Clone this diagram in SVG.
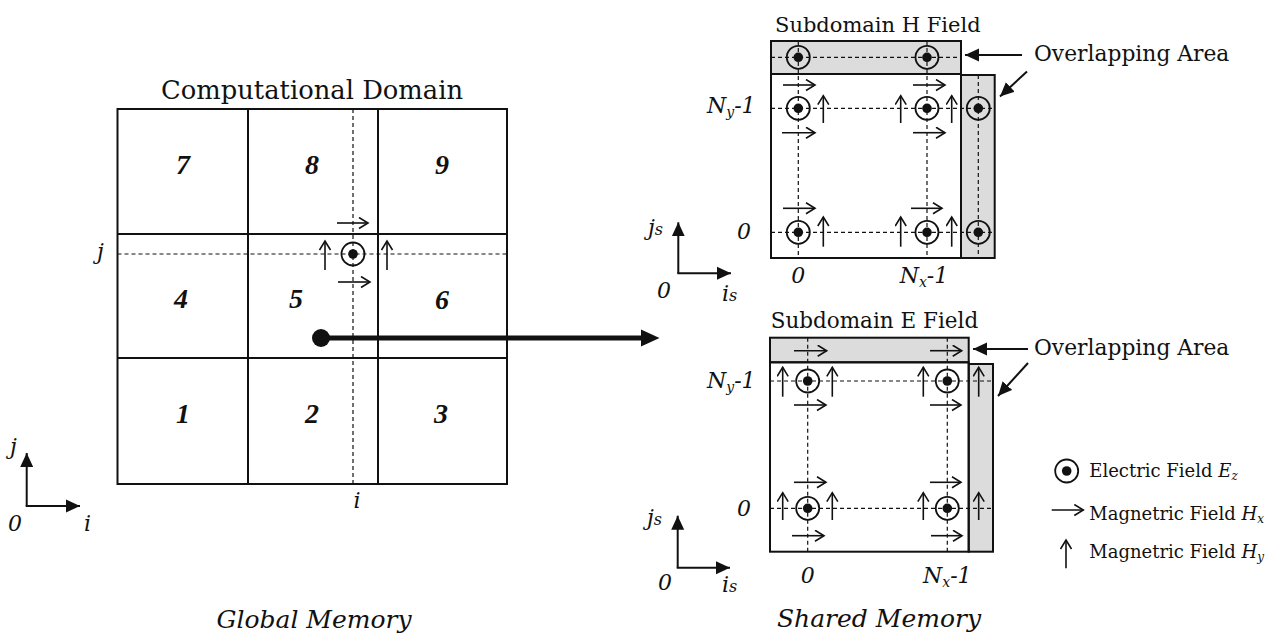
<svg xmlns="http://www.w3.org/2000/svg" width="1288" height="637" viewBox="0 0 1288 637">
<defs>
<style>
.frame{fill:none;stroke:#111;stroke-width:2}
.band{fill:#dcdcdc;stroke:#111;stroke-width:2}
.dash{fill:none;stroke:#111;stroke-width:1.2;stroke-dasharray:4 3}
.hx,.hy{fill:none;stroke:#111;stroke-width:1.6;marker-end:url(#open)}
.ax{fill:none;stroke:#111;stroke-width:2;marker-end:url(#solid)}
.ring{fill:none;stroke:#111;stroke-width:1.8}
.dot{fill:#111}
.t{font-family:"DejaVu Serif","Liberation Serif",serif;fill:#111}
.it{font-family:"DejaVu Serif","Liberation Serif",serif;font-style:italic;fill:#111}
.num{font-family:"Liberation Serif","DejaVu Serif",serif;font-style:italic;font-weight:bold;font-size:28px;fill:#111;text-anchor:middle}
</style>
<marker id="open" markerUnits="userSpaceOnUse" markerWidth="14" markerHeight="14" refX="10" refY="6" orient="auto">
<path d="M1,0.5 L10,6 L1,11.5" fill="none" stroke="#111" stroke-width="1.6"/>
</marker>
<marker id="solid" markerUnits="userSpaceOnUse" markerWidth="16" markerHeight="14" refX="14" refY="7" orient="auto">
<path d="M0,0.5 L14,7 L0,13.5 Z" fill="#111"/>
</marker>
<g id="ez"><circle class="ring" r="11.5"/><circle class="dot" r="4.8"/></g>
</defs>
<rect width="1288" height="637" fill="#fff"/>

<!-- Global memory: computational domain -->
<g id="domain">
<text class="t" x="312" y="99" font-size="25.8" text-anchor="middle">Computational Domain</text>
<rect class="frame" x="117.5" y="109" width="389.5" height="375"/>
<line class="frame" x1="248" y1="109" x2="248" y2="484"/>
<line class="frame" x1="378" y1="109" x2="378" y2="484"/>
<line class="frame" x1="117.5" y1="234" x2="507" y2="234"/>
<line class="frame" x1="117.5" y1="358" x2="507" y2="358"/>
<line class="dash" x1="353" y1="109" x2="353" y2="484"/>
<line class="dash" x1="117.5" y1="254" x2="507" y2="254"/>
<text class="it" x="97" y="259" font-size="22">j</text>
<text class="it" x="357" y="508" font-size="22" text-anchor="middle">i</text>
</g>
<g id="cell7"><text class="num" x="183" y="174">7</text></g>
<g id="cell8"><text class="num" x="312" y="174">8</text></g>
<g id="cell9"><text class="num" x="442" y="174">9</text></g>
<g id="cell4"><text class="num" x="181" y="308">4</text></g>
<g id="cell5"><text class="num" x="296" y="308">5</text></g>
<g id="cell6"><text class="num" x="442" y="309">6</text></g>
<g id="cell1"><text class="num" x="183" y="423">1</text></g>
<g id="cell2"><text class="num" x="312" y="423">2</text></g>
<g id="cell3"><text class="num" x="441" y="423">3</text></g>
<g id="domain-fields">
<use href="#ez" x="353" y="254"/>
<line class="hx" x1="337" y1="223" x2="368" y2="223"/>
<line class="hx" x1="338" y1="282" x2="370" y2="282"/>
<line class="hy" x1="325" y1="270" x2="325" y2="241"/>
<line class="hy" x1="387" y1="270" x2="387" y2="241"/>
</g>
<g id="axis-global">
<line class="ax" x1="26.7" y1="506" x2="26.7" y2="453"/>
<line class="ax" x1="25.7" y1="506" x2="80" y2="506"/>
<text class="it" x="10" y="454" font-size="22">j</text>
<text class="it" x="8" y="531" font-size="22">0</text>
<text class="it" x="84" y="531" font-size="22">i</text>
</g>
<text class="it" x="314" y="628" font-size="25" text-anchor="middle">Global Memory</text>

<!-- connector -->
<g id="connectors">
<circle cx="321" cy="338" r="9" fill="#111"/>
<line x1="321" y1="338" x2="643" y2="338" stroke="#111" stroke-width="5"/>
<path d="M641,329.5 L659.5,338 L641,346.5 Z" fill="#111"/>
<line class="ax" x1="1022" y1="55" x2="965" y2="55"/>
<line class="ax" x1="1027" y1="71.5" x2="1000" y2="96.5"/>
<line class="ax" x1="1028" y1="349" x2="973" y2="349"/>
<line class="ax" x1="1028" y1="363" x2="998" y2="396"/>
</g>

<!-- Subdomain H field -->
<g id="subdomain-h">
<text class="t" x="775" y="31.7" font-size="21">Subdomain H Field</text>
<rect class="band" x="771" y="41" width="190" height="33"/>
<rect class="band" x="961" y="75" width="33.7" height="183"/>
<rect class="frame" x="771" y="74" width="190" height="184"/>
<line class="dash" x1="798.3" y1="41" x2="798.3" y2="258"/>
<line class="dash" x1="927" y1="41" x2="927" y2="258"/>
<line class="dash" x1="978.3" y1="75" x2="978.3" y2="258"/>
<line class="dash" x1="771" y1="57.3" x2="961" y2="57.3"/>
<line class="dash" x1="771" y1="108.3" x2="994.7" y2="108.3"/>
<line class="dash" x1="771" y1="232.3" x2="994.7" y2="232.3"/>
<use href="#ez" x="798.3" y="57.3"/>
<use href="#ez" x="927" y="57.3"/>
<use href="#ez" x="798.3" y="108.3"/>
<use href="#ez" x="927" y="108.3"/>
<use href="#ez" x="978.3" y="108.3"/>
<use href="#ez" x="798.3" y="232.3"/>
<use href="#ez" x="927" y="232.3"/>
<use href="#ez" x="978.3" y="232.3"/>
<line class="hx" x1="783" y1="85" x2="815" y2="85"/>
<line class="hx" x1="913" y1="85" x2="945" y2="85"/>
<line class="hx" x1="782" y1="132.7" x2="815" y2="132.7"/>
<line class="hx" x1="913" y1="132.7" x2="945" y2="132.7"/>
<line class="hx" x1="783" y1="208.3" x2="815" y2="208.3"/>
<line class="hx" x1="911" y1="208.3" x2="942" y2="208.3"/>
<line class="hy" x1="823.3" y1="123" x2="823.3" y2="95.7"/>
<line class="hy" x1="900.7" y1="123" x2="900.7" y2="95.7"/>
<line class="hy" x1="951.7" y1="123" x2="951.7" y2="95.7"/>
<line class="hy" x1="823.3" y1="246.7" x2="823.3" y2="217"/>
<line class="hy" x1="900.7" y1="246.7" x2="900.7" y2="217"/>
<line class="hy" x1="951.7" y1="246.7" x2="951.7" y2="217"/>
<text class="it" x="707" y="113.3" font-size="22">N<tspan font-size="14" dy="4">y</tspan><tspan dy="-4">-1</tspan></text>
<text class="it" x="737" y="239" font-size="22">0</text>
<text class="it" x="798.3" y="283" font-size="22" text-anchor="middle">0</text>
<text class="it" x="924" y="283" font-size="22" text-anchor="middle">N<tspan font-size="14" dy="4">x</tspan><tspan dy="-4">-1</tspan></text>
<text class="t" x="1034" y="60.7" font-size="21.8">Overlapping Area</text>
</g>
<g id="axis-h">
<line class="ax" x1="678.3" y1="273.3" x2="678.3" y2="222.3"/>
<line class="ax" x1="677.3" y1="273.3" x2="731" y2="273.3"/>
<text class="it" x="648" y="235" font-size="22">j<tspan font-size="16">s</tspan></text>
<text class="it" x="657" y="298" font-size="22">0</text>
<text class="it" x="722" y="301" font-size="22">i<tspan font-size="16">s</tspan></text>
</g>

<!-- Subdomain E field -->
<g id="subdomain-e">
<text class="t" x="770.7" y="328.3" font-size="21.5">Subdomain E Field</text>
<rect class="band" x="770" y="337.7" width="198.7" height="24.6"/>
<rect class="band" x="968.7" y="364" width="24.3" height="187.7"/>
<rect class="frame" x="770" y="362.3" width="198.7" height="189.4"/>
<line class="dash" x1="807.7" y1="337.7" x2="807.7" y2="551.7"/>
<line class="dash" x1="947.3" y1="337.7" x2="947.3" y2="551.7"/>
<line class="dash" x1="770" y1="381" x2="993" y2="381"/>
<line class="dash" x1="770" y1="508.3" x2="993" y2="508.3"/>
<use href="#ez" x="807.7" y="381"/>
<use href="#ez" x="947.3" y="381"/>
<use href="#ez" x="807.7" y="508.3"/>
<use href="#ez" x="947.3" y="508.3"/>
<line class="hx" x1="794" y1="350.7" x2="826.7" y2="350.7"/>
<line class="hx" x1="930" y1="350.7" x2="961.7" y2="350.7"/>
<line class="hx" x1="794" y1="405" x2="826" y2="405"/>
<line class="hx" x1="930" y1="405" x2="961" y2="405"/>
<line class="hx" x1="794" y1="482.3" x2="826" y2="482.3"/>
<line class="hx" x1="930" y1="482.3" x2="961" y2="482.3"/>
<line class="hx" x1="792" y1="535.7" x2="824" y2="535.7"/>
<line class="hx" x1="931" y1="535.7" x2="962" y2="535.7"/>
<line class="hy" x1="782.7" y1="396.7" x2="782.7" y2="367.3"/>
<line class="hy" x1="832.3" y1="396.7" x2="832.3" y2="367.3"/>
<line class="hy" x1="923.3" y1="396.7" x2="923.3" y2="367.3"/>
<line class="hy" x1="978.7" y1="396.7" x2="978.7" y2="367.3"/>
<line class="hy" x1="782.7" y1="520" x2="782.7" y2="492.7"/>
<line class="hy" x1="832.3" y1="520" x2="832.3" y2="492.7"/>
<line class="hy" x1="923.3" y1="520" x2="923.3" y2="492.7"/>
<line class="hy" x1="978.7" y1="520" x2="978.7" y2="492.7"/>
<text class="it" x="707" y="388" font-size="22">N<tspan font-size="14" dy="4">y</tspan><tspan dy="-4">-1</tspan></text>
<text class="it" x="737" y="516" font-size="22">0</text>
<text class="it" x="807.7" y="583" font-size="22" text-anchor="middle">0</text>
<text class="it" x="947.3" y="583" font-size="22" text-anchor="middle">N<tspan font-size="14" dy="4">x</tspan><tspan dy="-4">-1</tspan></text>
<text class="t" x="1034" y="355" font-size="21.8">Overlapping Area</text>
</g>
<g id="axis-e">
<line class="ax" x1="677.7" y1="567.7" x2="677.7" y2="515.7"/>
<line class="ax" x1="676.7" y1="567.7" x2="730" y2="567.7"/>
<text class="it" x="647" y="525" font-size="22">j<tspan font-size="16">s</tspan></text>
<text class="it" x="658" y="590" font-size="22">0</text>
<text class="it" x="722" y="592" font-size="22">i<tspan font-size="16">s</tspan></text>
</g>
<text class="it" x="879" y="627" font-size="25" text-anchor="middle">Shared Memory</text>

<!-- Legend -->
<g id="legend">
<use href="#ez" x="1066.7" y="471"/>
<text class="t" x="1089.3" y="476.7" font-size="18">Electric Field <tspan class="it">E<tspan font-size="12" dy="3">z</tspan></tspan></text>
<line class="hx" x1="1051.7" y1="510" x2="1083.3" y2="510"/>
<text class="t" x="1089.3" y="520" font-size="18">Magnetric Field <tspan class="it">H<tspan font-size="12" dy="3">x</tspan></tspan></text>
<line class="hy" x1="1066" y1="568.3" x2="1066" y2="540"/>
<text class="t" x="1089.3" y="558.3" font-size="18">Magnetric Field <tspan class="it">H<tspan font-size="12" dy="3">y</tspan></tspan></text>
</g>
</svg>
